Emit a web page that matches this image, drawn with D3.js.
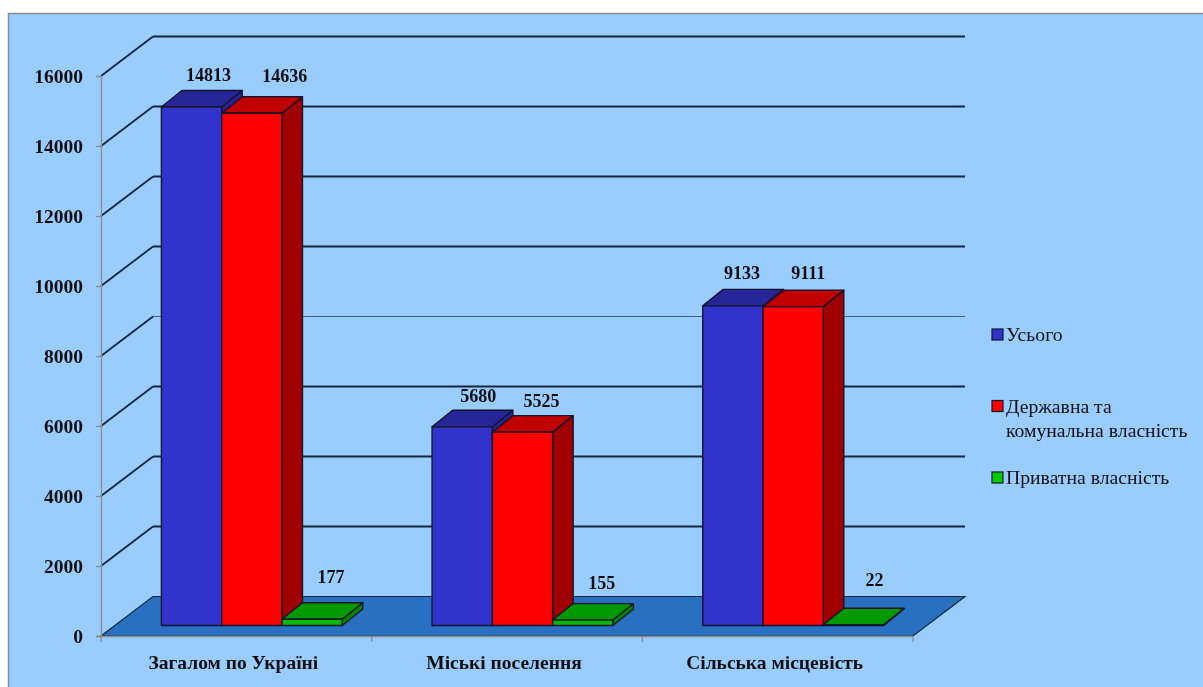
<!DOCTYPE html>
<html>
<head>
<meta charset="utf-8">
<script src="https://cdn.jsdelivr.net/npm/d3@7"></script>
<style>
html, body { margin: 0; padding: 0; background: #fff; overflow: hidden; }
text { font-family: "Liberation Serif", serif; fill: #111; }
</style>
</head>
<body>
<div id="chart"></div>
<script>
var categories = ["Загалом по Україні", "Міські поселення", "Сільська місцевість"];
var seriesNames = ["Усього", "Державна та комунальна власність", "Приватна власність"];
var total = [14813, 5680, 9133];
var publicOwned = [14636, 5525, 9111];
var privateOwned = [177, 155, 22];
var yTicks = [0, 2000, 4000, 6000, 8000, 10000, 12000, 14000, 16000];

var seriesValues = [total, publicOwned, privateOwned];
// small per-label shifts, the labels do not sit regularly over the bars
var labelShift = [
    [[0, 0], [16, -5], [2, -10]],
    [[-1, 1], [2, 1], [2, -5]],
    [[-8, -1], [-2, -2], [4, -13]]
];

var front = ["#3333CC", "#FF0000", "#00BB00"];
var side = ["#26269A", "#A00000", "#008800"];
var topFace = ["#262699", "#C00000", "#009900"];
var swatch = ["#3333CC", "#FF0000", "#00CC00"];

var width = 1203, height = 687;
var svg = d3.select("#chart").append("svg").attr("width", width).attr("height", height)
    .style("display", "block");

// the reference is a soft upscaled picture
svg.append("filter").attr("id", "soft").attr("x", 0).attr("y", 0).attr("width", 1).attr("height", 1)
    .append("feGaussianBlur").attr("stdDeviation", 0.45);
var root = svg.append("g").attr("filter", "url(#soft)");

root.append("rect").attr("x", 0).attr("y", 0).attr("width", width).attr("height", height).attr("fill", "#fff");
root.append("rect").attr("x", 8.5).attr("y", 13.5).attr("width", width).attr("height", height)
    .attr("fill", "#99CCFF").attr("stroke", "#8c8c8c").attr("stroke-width", 1.5);

var y = d3.scaleLinear().domain([0, 16000]).range([636, 76]);
var x = d3.scaleBand().domain(categories).range([101, 913]);

// wall and floor depth
var depthX = 52, depthY = -39.5;
// where the bars stand on the floor, and how deep they are
var baseX = 15.5, baseY = -10.5, barDX = 20.5, barDY = -16.5;

var inner = d3.scaleBand().domain(d3.range(3)).range([0, x.bandwidth()]).paddingInner(0).paddingOuter(0.745);

// back wall grid
var grid = root.append("g").attr("fill", "none");
yTicks.slice(1).forEach(function (t) {
    grid.append("line")
        .attr("x1", 101).attr("y1", y(t)).attr("x2", 101 + depthX).attr("y2", y(t) + depthY)
        .attr("stroke", "#14263c").attr("stroke-width", 1.8);
    grid.append("line")
        .attr("x1", 101 + depthX).attr("y1", y(t) + depthY).attr("x2", 913 + depthX).attr("y2", y(t) + depthY)
        .attr("stroke", t === 8000 ? "#4a5f78" : "#14263c")
        .attr("stroke-width", t === 8000 ? 1 : 2);
});

// floor
root.append("polygon")
    .attr("points", [[101, y(0)], [101 + depthX, y(0) + depthY], [913 + depthX, y(0) + depthY], [913, y(0)]].join(" "))
    .attr("fill", "#2970C0").attr("stroke", "#14263c").attr("stroke-width", 1.2);

// axes
var axisY = root.append("g").attr("transform", "translate(101,0)")
    .call(d3.axisLeft(y).tickValues(yTicks).tickFormat(d3.format("d")).tickSize(5).tickPadding(13));
axisY.selectAll("text").attr("font-size", 19.5).attr("font-weight", "bold");
axisY.selectAll("line, path").attr("stroke", "#8c8c8c").attr("stroke-width", 1.3);

var axisX = root.append("g").attr("transform", "translate(0,636)")
    .call(d3.axisBottom(x).tickSize(0).tickPadding(19));
axisX.selectAll("text").attr("font-size", 19.5).attr("font-weight", "bold").attr("dx", -3);
axisX.select("path").attr("stroke", "#8c8c8c").attr("stroke-width", 1.6);
axisX.selectAll(".edge").data([101].concat(categories.map(function (c) { return x(c) + x.bandwidth(); })))
    .enter().append("line").attr("class", "edge")
    .attr("x1", function (d) { return d; }).attr("x2", function (d) { return d; })
    .attr("y1", 0).attr("y2", 6)
    .attr("stroke", "#8c8c8c").attr("stroke-width", 1.3);

// bars
var bars = root.append("g").attr("stroke", "#14142a").attr("stroke-width", 1.4).attr("stroke-linejoin", "round");
categories.forEach(function (c, i) {
    seriesValues.forEach(function (values, s) {
        var x0 = x(c) + inner(s) + baseX,
            x1 = x0 + inner.bandwidth(),
            yb = y(0) + baseY,
            yt = y(values[i]) + baseY;
        bars.append("polygon").attr("fill", side[s])
            .attr("points", [[x1, yb], [x1 + barDX, yb + barDY], [x1 + barDX, yt + barDY], [x1, yt]].join(" "));
        bars.append("polygon").attr("fill", topFace[s])
            .attr("points", [[x0, yt], [x0 + barDX, yt + barDY], [x1 + barDX, yt + barDY], [x1, yt]].join(" "));
        bars.append("rect").attr("fill", front[s])
            .attr("x", x0).attr("y", yt).attr("width", x1 - x0).attr("height", yb - yt);
    });
});

// value labels
categories.forEach(function (c, i) {
    seriesValues.forEach(function (values, s) {
        root.append("text")
            .attr("x", x(c) + inner(s) + baseX + inner.bandwidth() / 2 + 17 + labelShift[i][s][0])
            .attr("y", y(values[i]) + baseY - 26 + labelShift[i][s][1])
            .attr("text-anchor", "middle")
            .attr("font-size", 18).attr("font-weight", "bold")
            .text(values[i]);
    });
});

// legend
var legendRows = [[seriesNames[0]], ["Державна та", "комунальна власність"], [seriesNames[2]]];
var legendY = d3.scalePoint().domain(d3.range(3)).range([335, 478]);
legendRows.forEach(function (lines, i) {
    var g = root.append("g").attr("transform", "translate(992," + legendY(i) + ")");
    g.append("rect").attr("x", 0).attr("y", -6).attr("width", 11).attr("height", 11)
        .attr("fill", swatch[i]).attr("stroke", "#14142a").attr("stroke-width", 1.2);
    lines.forEach(function (line, k) {
        g.append("text").attr("x", 14).attr("y", 6 + k * 24)
            .attr("font-size", 19.7).text(line);
    });
});
</script>
</body>
</html>
